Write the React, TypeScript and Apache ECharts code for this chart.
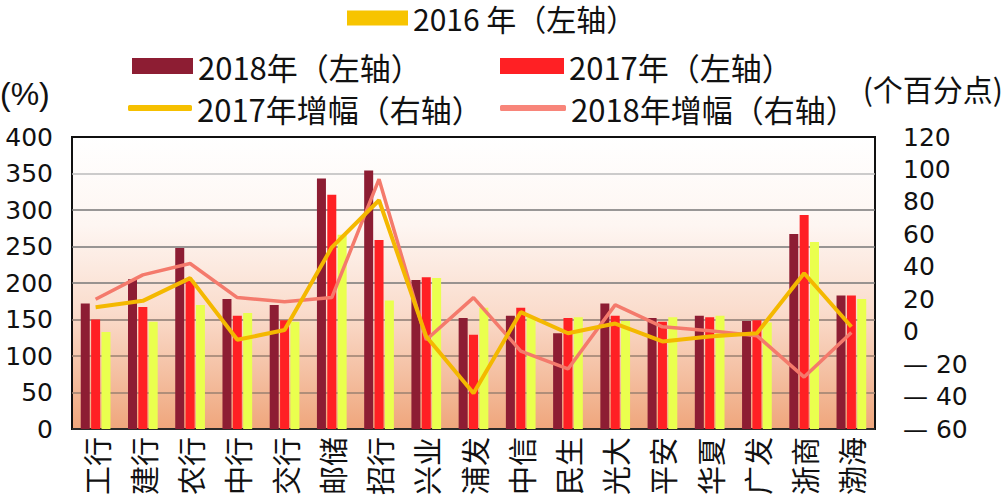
import React, { useEffect, useRef } from "react";
import * as echarts from "echarts";

const categories = ["工行", "建行", "农行", "中行", "交行", "邮储", "招行", "兴业", "浦发", "中信", "民生", "光大", "平安", "华夏", "广发", "浙商", "渤海"];
const value2018 = [172, 205, 248, 178, 170, 343, 354, 204, 152, 155, 131, 172, 152, 155, 148, 267, 183];
const value2017 = [150, 167, 203, 155, 149, 321, 259, 208, 129, 166, 152, 155, 147, 153, 149, 293, 183];
const value2016 = [133, 147, 170, 159, 147, 266, 176, 207, 166, 153, 153, 148, 153, 155, 146, 256, 178];
const growth2017 = [15, 19, 33, -5, 1, 52, 81, -3, -38, 12, -1, 5, -6, -3, -1, 36, 3];
const growth2018 = [20, 35, 42, 21, 18.5, 21, 94, -5, 21, -12, -23, 16.5, 3, 0.5, -2.5, -28, -0.5];

const NAME_2018 = "2018年（左轴）";
const NAME_2017 = "2017年（左轴）";
const NAME_2016 = "2016 年（左轴）";
const NAME_G2017 = "2017年增幅（右轴）";
const NAME_G2018 = "2018年增幅（右轴）";

const legendFont = "'Liberation Sans Narrow', 'Noto Sans CJK SC', sans-serif";
const axisFont = "'DejaVu Sans', sans-serif";

export default function App() {
  const ref = useRef<HTMLDivElement>(null);
  useEffect(() => {
    if (!ref.current) return;
    const chart = echarts.init(ref.current, undefined, { renderer: "svg" });
    const mkLegend = (name: string, left: number, top: number, icon: string, color: string, w: number, h: number, fs = 31) => ({
      left,
      top,
      itemWidth: w,
      itemHeight: h,
      itemGap: 0,
      padding: 0,
      textStyle: { fontFamily: legendFont, fontSize: fs, color: "#111", lineHeight: 36 },
      data: [{ name, icon, itemStyle: { color }, lineStyle: { width: 0 } }],
      selectedMode: false,
    });
    chart.setOption({
      animation: false,
      backgroundColor: "#ffffff",
      legend: [
        mkLegend(NAME_2016, 347, 0, "rect", "#f7c400", 61, 15, 30),
        mkLegend(NAME_2018, 132, 48, "rect", "#8d1d33", 61, 16),
        mkLegend(NAME_2017, 500, 48, "rect", "#ff2024", 64, 16),
        mkLegend(NAME_G2017, 128, 90, "roundRect", "#f6c000", 64, 6),
        mkLegend(NAME_G2018, 500, 90, "roundRect", "#f8857a", 66, 6),
      ],
      graphic: [
        { type: "text", left: 0, top: 78, style: { text: "(%)", font: "32px 'Liberation Sans', sans-serif", fill: "#111" } },
        { type: "text", right: 3, top: 73, style: { text: "(个百分点)", font: "30px 'Liberation Sans Narrow', 'Noto Sans CJK SC', sans-serif", fill: "#111" } },
      ],
      grid: {
        left: 72,
        right: 131,
        top: 137,
        bottom: 75,
        show: true,
        borderColor: "#111",
        borderWidth: 2,
        backgroundColor: new echarts.graphic.LinearGradient(0, 0, 0, 1, [
          { offset: 0, color: "#ffffff" },
          { offset: 0.3, color: "#fef6f2" },
          { offset: 0.6, color: "#fadccc" },
          { offset: 1, color: "#efa67c" },
        ]),
      },
      xAxis: {
        type: "category",
        data: categories,
        axisLine: { show: false },
        axisTick: { show: false },
        axisLabel: {
          interval: 0,
          rotate: 90,
          margin: 8,
          fontSize: 29,
          fontFamily: "'Noto Sans CJK SC', sans-serif",
          color: "#111",
        },
      },
      yAxis: [
        {
          type: "value",
          min: 0,
          max: 400,
          interval: 50,
          axisLine: { show: false },
          axisTick: { show: false },
          axisLabel: { fontSize: 25, fontFamily: axisFont, color: "#111", margin: 19 },
          splitLine: {
            lineStyle: {
              width: 1.5,
              color: ["#333", "#9a8070", "#9a8070", "#8a7a72", "#777", "#777", "#777", "#bbbbbb", "#111"],
            },
          },
        },
        {
          type: "value",
          min: -60,
          max: 120,
          interval: 20,
          position: "right",
          axisLine: { show: false },
          axisTick: { show: false },
          splitLine: { show: false },
          axisLabel: {
            fontSize: 25,
            fontFamily: axisFont,
            color: "#111",
            margin: 28,
            formatter: (v: number) => (v < 0 ? "— " + Math.abs(v) : String(v)),
          },
        },
      ],
      series: [
        {
          name: NAME_2018,
          type: "bar",
          data: value2018,
          barWidth: 9,
          barGap: "15%",
          itemStyle: { color: "#8d1d33" },
        },
        {
          name: NAME_2017,
          type: "bar",
          data: value2017,
          barWidth: 9,
          barGap: "15%",
          itemStyle: { color: "#ff2024" },
        },
        {
          name: NAME_2016,
          type: "bar",
          data: value2016,
          barWidth: 9,
          barGap: "15%",
          itemStyle: { color: "#eaff4e" },
        },
        {
          name: NAME_G2017,
          type: "line",
          yAxisIndex: 1,
          data: growth2017,
          showSymbol: false,
          symbol: "none",
          lineStyle: { color: "#f4b800", width: 4 },
          itemStyle: { color: "#f6c000" },
          z: 4,
        },
        {
          name: NAME_G2018,
          type: "line",
          yAxisIndex: 1,
          data: growth2018,
          showSymbol: false,
          symbol: "none",
          lineStyle: { color: "#f47a6c", width: 3.5 },
          itemStyle: { color: "#f8857a" },
          z: 3,
        },
      ],
    });
    return () => chart.dispose();
  }, []);
  return <div ref={ref} style={{ position: "fixed", left: 0, top: 0, width: 1006, height: 504 }} />;
}
